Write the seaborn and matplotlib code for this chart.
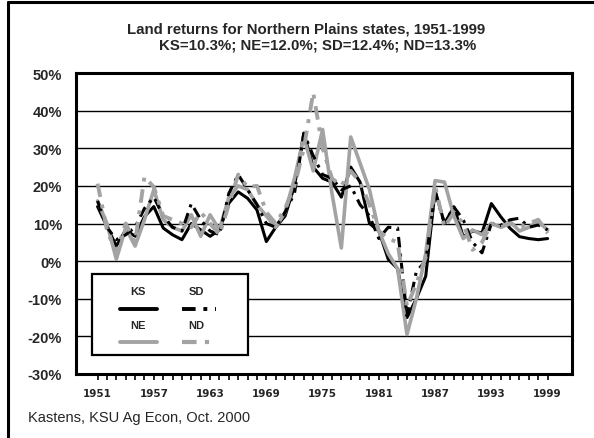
import numpy as np
import pandas as pd
import seaborn as sns
import matplotlib.pyplot as plt
from matplotlib.lines import Line2D
from matplotlib.patches import Rectangle

# annual land returns (%), 1951-1999
years = list(range(1951, 2000))
ks = [14.5, 9.2, 4, 8.3, 6.6, 11.8, 14.5, 8.8, 7, 5.7,
      10, 8.3, 6.6, 8.3, 15.4, 18.4, 16.7, 13.6, 5.2, 9,
      12, 20, 34, 25, 22, 21, 17, 25, 21, 10,
      8, 0.5, -2, -15, -10, -4, 18.8, 10, 14.4, 6.5,
      8, 7.5, 15.3, 11.8, 8.7, 6.5, 6, 5.7, 6]
ne = [16, 10, 0.5, 8.8, 4, 11, 19, 11, 9, 8,
      12.3, 6.6, 12.3, 8.3, 17, 20, 19, 15, 12, 9,
      13, 22, 33, 24, 35, 18, 3.5, 33, 26, 19,
      8, 2, -2, -19.5, -10, 2, 21.4, 21, 12, 6,
      8.3, 7, 10, 9, 10.5, 8, 9, 10.5, 8.3]
sd = [16, 9, 5.7, 7, 9, 14, 17, 12, 9, 8,
      15.3, 11, 8, 7, 18, 23, 19, 15, 10, 9,
      13, 18, 34, 28, 23, 22, 19, 20, 15, 12,
      6, 9, 8.8, -14.6, -2.7, 0, 18.3, 10, 14.4, 11,
      5, 2.2, 10, 9.5, 11, 11.4, 9, 9.6, 8.3]
nd = [20.6, 8.3, 2, 10, 5, 22.4, 19.7, 12, 11, 10,
      9, 13, 10, 7, 15, 23, 19.7, 20, 13, 10,
      14, 20, 30, 44.8, 30, 22, 20, 24, 21, 15,
      8, 6, 5, -12, -6, 1, 20, 9, 13, 10,
      3, 5, 10, 9, 10, 9, 10, 11, 7.4]
label_years = list(range(1951, 2000, 6))

W, H = 594, 439
GRAY = '#A3A3A3'
DASH = (0, (3.5, 2, 1, 2))

sns.set_style('white')
plt.rcParams['font.family'] = ['Liberation Sans', 'DejaVu Sans']

fig = plt.figure(figsize=(W / 100, H / 100), dpi=100)

def fx(x):
    return x / W

def fy(y):
    return 1 - y / H

ax = fig.add_axes([fx(76), fy(375), fx(572) - fx(76), fy(74) - fy(375)])

df = pd.DataFrame({'year': years, 'KS': ks, 'NE': ne, 'SD': sd, 'ND': nd})

sns.lineplot(data=df, x='year', y='KS', color='black', lw=2.2, ax=ax)
sns.lineplot(data=df, x='year', y='NE', color=GRAY, lw=2.6, ax=ax)
sns.lineplot(data=df, x='year', y='SD', color='black', lw=2.2, linestyle=DASH, ax=ax)
sns.lineplot(data=df, x='year', y='ND', color=GRAY, lw=2.8, linestyle=DASH, ax=ax)

ax.set_xlim(1948.7, 2001.6)
ax.set_ylim(-30, 50)
ax.set_yticks(range(-30, 51, 10))
ax.set_yticklabels([f'{v}%' for v in range(-30, 51, 10)], fontsize=10.5, fontweight='bold')
ax.yaxis.grid(True, color='black', lw=1.0)
ax.set_axisbelow(True)
ax.tick_params(axis='y', length=0, pad=10)

ax.set_xticks(years)
ax.set_xticklabels([str(y) if y in label_years else '' for y in years],
                   fontsize=7.5, fontweight='bold', family='DejaVu Sans')
ax.tick_params(axis='x', direction='out', length=4, width=1.2, color='black', pad=6, bottom=True)
ax.set_xlabel('')
ax.set_ylabel('')
for s in ax.spines.values():
    s.set_color('black')
    s.set_linewidth(2.2)

# legend box (labels above samples)
fig.patches.append(Rectangle((fx(92), fy(356)), fx(248) - fx(92), fy(275) - fy(356),
                             transform=fig.transFigure, fill=True, facecolor='white',
                             edgecolor='black', lw=1.6, zorder=5))
entries = [('KS', 138, 292, 120, 157, 310, 'black', 2.8, '-'),
           ('SD', 196, 292, 182, 216, 310, 'black', 2.8, DASH),
           ('NE', 138, 326, 120, 157, 343, GRAY, 2.8, '-'),
           ('ND', 196, 326, 182, 216, 343, GRAY, 3.0, DASH)]
for name, cx, cy, x0, x1, ly, col, lw, ls in entries:
    fig.text(fx(cx), fy(cy), name, ha='center', va='center', fontsize=8,
             fontweight='bold', zorder=6)
    fig.lines.append(Line2D([fx(x0), fx(x1)], [fy(ly), fy(ly)],
                            transform=fig.transFigure, color=col, lw=lw, ls=ls, zorder=6))

fig.text(fx(306), fy(29), 'Land returns for Northern Plains states, 1951-1999',
         ha='center', va='center', fontsize=10.8, fontweight='bold')
fig.text(fx(318), fy(46), 'KS=10.3%; NE=12.0%; SD=12.4%; ND=13.3%',
         ha='center', va='center', fontsize=10.8, fontweight='bold')
fig.text(fx(28), fy(418), 'Kastens, KSU Ag Econ, Oct. 2000', ha='left', va='center', fontsize=10.5)

# outer frame (left and top edges)
fig.lines.append(Line2D([fx(8), fx(8)], [fy(3), 0], transform=fig.transFigure, color='black', lw=2.2))
fig.lines.append(Line2D([fx(8), 1], [fy(3), fy(3)], transform=fig.transFigure, color='black', lw=2.2))

plt.savefig('out.png', dpi=100)
